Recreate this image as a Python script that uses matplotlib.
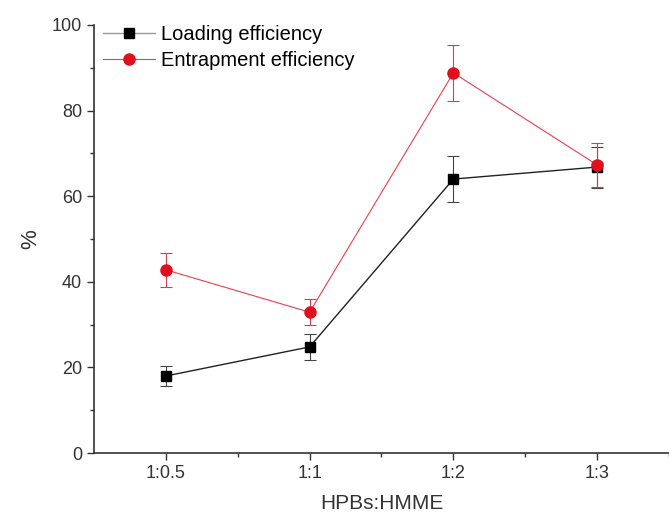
import matplotlib
matplotlib.use('Agg')
import matplotlib.pyplot as plt
from matplotlib.lines import Line2D
import numpy as np

plt.rcParams['font.family'] = ['Liberation Sans', 'DejaVu Sans']

# data
ratios = ['1:0.5', '1:1', '1:2', '1:3']
loading = [18.0, 24.8, 64.0, 66.8]
loading_err = [2.3, 3.0, 5.4, 4.8]
entrap = [42.8, 32.9, 88.8, 67.3]
entrap_err = [3.9, 3.0, 6.6, 5.1]

x = np.arange(1, len(ratios) + 1)

fig = plt.figure(figsize=(6.69, 5.19), dpi=100)
ax = fig.add_axes([0.1405, 0.127, 0.8595, 0.825])

ax.errorbar(x, loading, yerr=loading_err, color='#222222', lw=1.0,
            marker='s', ms=7, mfc='black', mec='black',
            ecolor='#444444', elinewidth=0.8, capsize=4, capthick=0.8,
            zorder=3)
ax.errorbar(x, entrap, yerr=entrap_err, color='#e8404a', lw=0.8,
            marker='o', ms=8, mfc='#e0101e', mec='#e0101e',
            ecolor='#d04050', elinewidth=0.8, capsize=4, capthick=0.8,
            zorder=4)

ax.set_xlim(0.5, 4.48)
ax.set_ylim(0, 100)
ax.set_xticks(x)
ax.set_xticklabels(ratios)
ax.set_xticks([1.5, 2.5, 3.5, 4.5], minor=True)
ax.set_yticks(np.arange(0, 101, 20))
ax.set_yticks(np.arange(10, 100, 20), minor=True)

for s in ['top', 'right']:
    ax.spines[s].set_visible(False)
for s in ['left', 'bottom']:
    ax.spines[s].set_color('#333333')
    ax.spines[s].set_linewidth(1.2)

ax.tick_params(which='major', direction='out', length=5, width=1,
               color='#333333', labelsize=13, labelcolor='#333333')
ax.tick_params(which='minor', direction='out', length=3, width=1,
               color='#333333')

ax.set_xlabel('HPBs:HMME', fontsize=15, color='#333333', labelpad=9)
ax.set_ylabel('%', fontsize=16, color='#333333', labelpad=8)

handles = [
    Line2D([], [], color='#999999', lw=1.0, marker='s', ms=7,
           mfc='black', mec='black'),
    Line2D([], [], color='#e8404a', lw=0.8, marker='o', ms=8,
           mfc='#e0101e', mec='#e0101e'),
]
ax.legend(handles, ['Loading efficiency', 'Entrapment efficiency'],
          loc='upper left', bbox_to_anchor=(0.015, 1.0), frameon=False,
          fontsize=14.5, borderpad=0, borderaxespad=0, handlelength=2.6,
          handletextpad=0.3, labelspacing=0.36)

fig.savefig('out.png', dpi=100)
